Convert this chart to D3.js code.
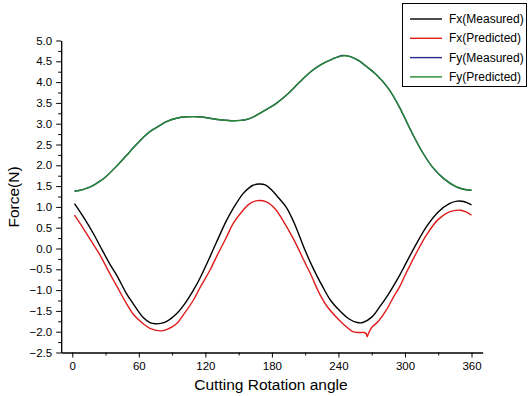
<!DOCTYPE html>
<html><head><meta charset="utf-8">
<script src="https://cdn.jsdelivr.net/npm/d3@7"></script>
<style>body{margin:0;background:#fff}svg{display:block}text{font-family:"Liberation Sans",Arial,sans-serif}</style>
</head><body><svg id="c" width="528" height="396"></svg>
<script>
const fxMeasuredAngle = [2,10,19,25,34,40,49,55,64,70,75,80,86,94,100,109,115,124,130,139,145,154,160,163,168,174,180,186,193,200,210,218,226,233,241,250,257,262,270,277,285,295,300,310,320,330,340,347,353,360];
const fxMeasured =      [1.08,0.76,0.36,0.06,-0.38,-0.64,-1.09,-1.33,-1.66,-1.78,-1.81,-1.80,-1.74,-1.57,-1.38,-1.01,-0.72,-0.21,0.15,0.67,0.96,1.32,1.47,1.52,1.55,1.53,1.40,1.22,0.99,0.62,-0.05,-0.52,-0.93,-1.25,-1.49,-1.70,-1.78,-1.78,-1.65,-1.41,-1.10,-0.65,-0.40,0.10,0.55,0.88,1.08,1.14,1.13,1.05];

const fxPredictedAngle = [2,10,19,25,34,40,49,55,64,70,79,85,94,100,109,115,124,130,139,145,154,160,167,175,183,190,200,210,215,223,230,241,248,253,258,263,265,266,267,270,276,283,290,295,300,310,320,330,340,350,355,360];
const fxPredicted =      [0.80,0.48,0.10,-0.16,-0.61,-0.90,-1.33,-1.58,-1.81,-1.92,-1.98,-1.95,-1.81,-1.60,-1.25,-0.95,-0.53,-0.20,0.27,0.60,0.92,1.08,1.15,1.12,0.95,0.67,0.20,-0.35,-0.62,-1.09,-1.40,-1.73,-1.90,-2.00,-2.02,-2.02,-2.05,-2.12,-2.05,-1.90,-1.75,-1.49,-1.15,-0.93,-0.65,-0.12,0.35,0.70,0.88,0.92,0.88,0.80];

const fyAngle = [2,7,12,19,25,30,40,49,55,64,70,79,85,94,100,109,117,124,135,145,152,157,163,169,175,184,195,205,215,225,235,244,250,258,265,274,285,295,305,315,325,335,345,352,360];
const fyMeasured =  [1.38,1.40,1.44,1.52,1.62,1.72,1.98,2.24,2.42,2.67,2.81,2.96,3.05,3.13,3.16,3.17,3.16,3.13,3.09,3.07,3.08,3.10,3.16,3.25,3.34,3.49,3.73,4.00,4.25,4.43,4.56,4.64,4.62,4.52,4.38,4.18,3.85,3.40,2.85,2.35,1.95,1.68,1.50,1.43,1.40];
const fyPredicted = [1.38,1.40,1.44,1.52,1.62,1.72,1.98,2.24,2.42,2.67,2.81,2.96,3.05,3.13,3.16,3.17,3.16,3.13,3.09,3.07,3.08,3.10,3.16,3.25,3.34,3.49,3.73,4.00,4.25,4.43,4.56,4.63,4.62,4.52,4.38,4.18,3.85,3.40,2.85,2.35,1.95,1.68,1.50,1.43,1.40];

const xMajorTicks = [0,60,120,180,240,300,360];
const xMinorTicks = [30,90,150,210,270,330];
const yMajorTicks = [-2.5,-2.0,-1.5,-1.0,-0.5,0.0,0.5,1.0,1.5,2.0,2.5,3.0,3.5,4.0,4.5,5.0];
const yMinorTicks = [-2.25,-1.75,-1.25,-0.75,-0.25,0.25,0.75,1.25,1.75,2.25,2.75,3.25,3.75,4.25,4.75];
const legendLabels = ["Fx(Measured)","Fx(Predicted)","Fy(Measured)","Fy(Predicted)"];
const seriesColors = ["#000000","#e01b1b","#2b2b8c","#238a2e"];

const svg = d3.select("#c");
const x = d3.scaleLinear().domain([-10,370]).range([61.2,482.6]);
const y = d3.scaleLinear().domain([-2.5,5]).range([352.5,40.5]);

function axisStyle(g){ g.selectAll("path,line").attr("stroke","#000").attr("stroke-width",1); g.selectAll("text").attr("font-size",11.5).attr("fill","#000"); }

svg.append("g").attr("transform","translate(0,352.5)")
  .call(d3.axisBottom(x).tickValues(xMinorTicks).tickSize(3).tickSizeOuter(0).tickFormat(""))
  .call(axisStyle);
svg.append("g").attr("transform","translate(0,352.5)")
  .call(d3.axisBottom(x).tickValues(xMajorTicks).tickSize(5).tickSizeOuter(0).tickPadding(4).tickFormat(d3.format("d")))
  .call(axisStyle);
svg.append("g").attr("transform","translate(61.2,0)")
  .call(d3.axisLeft(y).tickValues(yMinorTicks).tickSize(3).tickSizeOuter(0).tickFormat(""))
  .call(axisStyle);
svg.append("g").attr("transform","translate(61.2,0)")
  .call(d3.axisLeft(y).tickValues(yMajorTicks).tickSize(5).tickSizeOuter(0).tickPadding(4).tickFormat(d3.format(".1f")))
  .call(axisStyle);

svg.append("text").attr("x",271).attr("y",390).attr("text-anchor","middle").attr("font-size",15.5).text("Cutting Rotation angle");
svg.append("text").attr("transform","translate(19,197) rotate(-90)").attr("text-anchor","middle").attr("font-size",15.5).text("Force(N)");

const line = d3.line().x(d=>x(d[0])).y(d=>y(d[1])).curve(d3.curveCatmullRom.alpha(0.5));
const series = [
  [fxMeasuredAngle, fxMeasured],
  [fxPredictedAngle, fxPredicted],
  [fyAngle, fyMeasured],
  [fyAngle, fyPredicted]
];
series.forEach((s,i)=>{
  svg.append("path").datum(d3.zip(s[0],s[1])).attr("d",line)
    .attr("fill","none").attr("stroke",seriesColors[i]).attr("stroke-width",1.4);
});

const lg = svg.append("g");
lg.append("rect").attr("x",402.5).attr("y",3.5).attr("width",124).attr("height",83).attr("fill","#fff").attr("stroke","#000").attr("stroke-width",1);
legendLabels.forEach((t,i)=>{
  const yy = 19 + i*19.3;
  lg.append("line").attr("x1",410).attr("x2",442).attr("y1",yy).attr("y2",yy).attr("stroke",seriesColors[i]).attr("stroke-width",1.4);
  lg.append("text").attr("x",449).attr("y",yy+4).attr("font-size",12).text(t);
});
</script></body></html>
